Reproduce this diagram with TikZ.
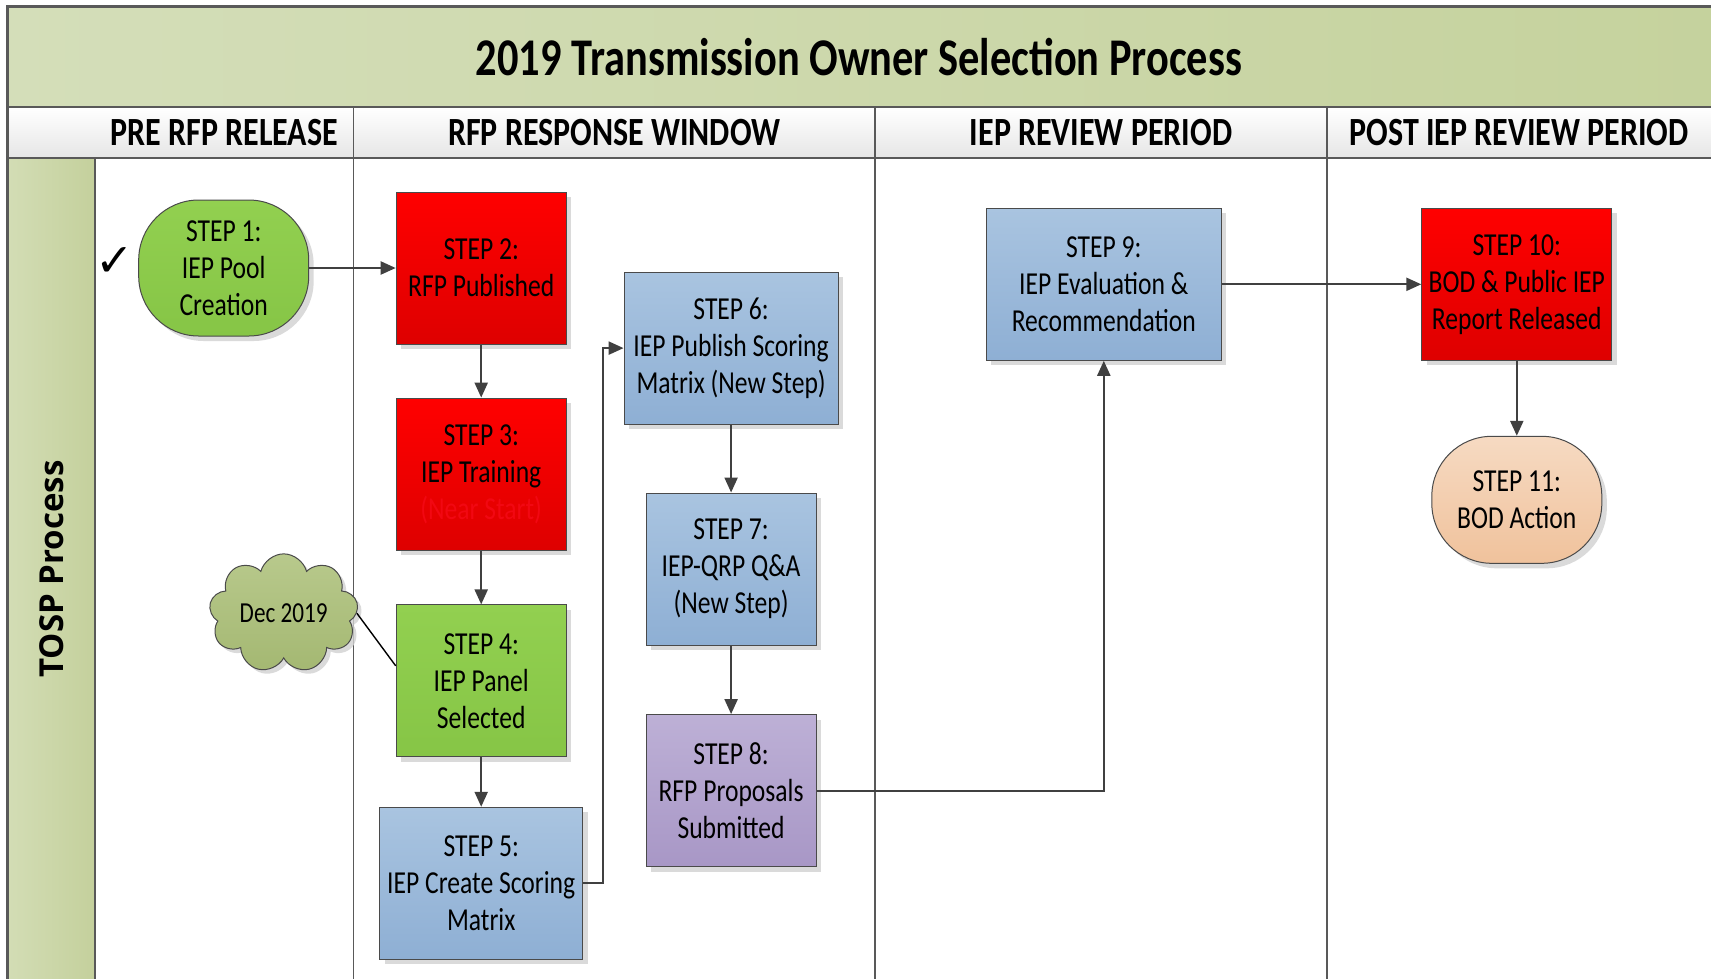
\documentclass[tikz,border=0pt]{standalone}
\usepackage{fontspec}
\setmainfont{Carlito}
\newfontfamily\narrowfont[FakeStretch=0.8]{Carlito}
\newfontfamily\lanefont{Open Sans}
\newfontfamily\tickfont{DejaVu Sans}
\usetikzlibrary{arrows.meta,shapes.symbols,shadows}
\definecolor{framegray}{HTML}{595959}
\definecolor{edgegray}{HTML}{4A4A4A}
\definecolor{arrowgray}{HTML}{404040}
\definecolor{bandleft}{HTML}{D4DEB9}
\definecolor{bandright}{HTML}{C5D29D}
\definecolor{headgray}{HTML}{E6E6E6}
\definecolor{laneleft}{HTML}{D3DDB5}
\definecolor{laneright}{HTML}{C4D09C}
\definecolor{redtop}{HTML}{FF0000}
\definecolor{redbot}{HTML}{DE0000}
\definecolor{nearred}{HTML}{F20812}
\definecolor{greentop}{HTML}{92D050}
\definecolor{greenbot}{HTML}{86C546}
\definecolor{bluetop}{HTML}{A9C4E0}
\definecolor{bluebot}{HTML}{8EAFD4}
\definecolor{purpletop}{HTML}{BDB0D6}
\definecolor{purplebot}{HTML}{A897C6}
\definecolor{peachtop}{HTML}{F6DAC2}
\definecolor{peachbot}{HTML}{F0C29C}
\definecolor{cloudtop}{HTML}{B8C98C}
\definecolor{cloudbot}{HTML}{A4B872}
\tikzset{
  frame/.style={draw=framegray,line width=2.4pt},
  divider/.style={draw=framegray,line width=1.6pt},
  phase/.style={font=\narrowfont\bfseries\fontsize{40}{46}\selectfont},
  stepbox/.style={draw=edgegray,line width=1pt,align=center,inner sep=2pt,
    minimum width=170pt,minimum height=152pt,
    font=\narrowfont\fontsize{32}{37}\selectfont,
    drop shadow={shadow xshift=5pt,shadow yshift=-5pt,fill=black!18,opacity=.8}},
  redstep/.style={stepbox,top color=redtop,bottom color=redbot},
  greenstep/.style={stepbox,top color=greentop,bottom color=greenbot},
  bluestep/.style={stepbox,top color=bluetop,bottom color=bluebot},
  purplestep/.style={stepbox,top color=purpletop,bottom color=purplebot},
  roundstep/.style={stepbox,rounded corners=60pt,minimum height=136pt},
  flow/.style={draw=arrowgray,line width=2.2pt,-{Triangle[length=15pt,width=13pt]}},
}
\begin{document}
\begin{tikzpicture}[x=1pt,y=-1pt]
  \useasboundingbox (0,0) rectangle (1711,978);
  \clip (0,0) rectangle (1711,978);
  \fill[white] (0,0) rectangle (1711,978);
  \path[left color=bandleft,right color=bandright] (7.6,6.5) rectangle (1730,107);
  \path[top color=white,bottom color=headgray] (7.6,107) rectangle (1730,158);
  \path[left color=laneleft,right color=laneright] (7.6,158) rectangle (95,990);
  \draw[frame] (1730,6.5) -- (7.6,6.5) -- (7.6,990);
  \draw[frame] (7.6,107) -- (1730,107);
  \draw[frame] (7.6,158) -- (1730,158);
  \foreach \x in {353.5,875,1327}
    \draw[divider] (\x,107) -- (\x,990);
  \draw[divider] (95,158) -- (95,990);

  \node[font=\narrowfont\bfseries\fontsize{53}{60}\selectfont] (title) at (859,57)
    {2019 Transmission Owner Selection Process};
  \foreach \x/\t [count=\i] in {224.3/PRE RFP RELEASE, 614.3/RFP RESPONSE WINDOW,
      1101/IEP REVIEW PERIOD, 1519/POST IEP REVIEW PERIOD}
    \node[phase] (phase\i) at (\x,132.5) {\t};
  \node[rotate=90,font=\lanefont\bfseries\fontsize{33}{40}\selectfont] (lane) at (51.3,569) {TOSP Process};

  \node[roundstep,top color=greentop,bottom color=greenbot] (s1) at (223.7,268) {STEP 1:\\IEP Pool\\Creation};
  \node[font=\tickfont\fontsize{46}{50}\selectfont] (tick) at (114.6,262) {✓};
  \node[redstep] (s2) at (481.2,268) {STEP 2:\\RFP Published};
  \node[redstep] (s3) at (481.2,474.1) {STEP 3:\\IEP Training\\\textcolor{nearred}{(Near Start)}};
  \node[greenstep] (s4) at (481.2,680.9) {STEP 4:\\IEP Panel\\Selected};
  \node[bluestep,minimum width=203pt] (s5) at (481.2,883.3) {STEP 5:\\IEP Create Scoring\\Matrix};
  \node[bluestep,minimum width=214pt] (s6) at (731.1,348.1) {STEP 6:\\IEP Publish Scoring\\Matrix (New Step)};
  \node[bluestep] (s7) at (731.1,569) {STEP 7:\\IEP-QRP Q\&A\\(New Step)};
  \node[purplestep] (s8) at (731.1,790.6) {STEP 8:\\RFP Proposals\\Submitted};
  \node[bluestep,minimum width=235pt] (s9) at (1103.8,284.3) {STEP 9:\\IEP Evaluation \&\\Recommendation};
  \node[redstep,minimum width=190pt] (s10) at (1516.8,284.3) {STEP 10:\\BOD \& Public IEP\\Report Released};
  \node[roundstep,minimum height=127pt,top color=peachtop,bottom color=peachbot] (s11) at (1516.8,499.8) {STEP 11:\\BOD Action};
  \node[cloud,cloud puffs=9,aspect=1.5,draw=edgegray,line width=1pt,
    top color=cloudtop,bottom color=cloudbot,minimum width=148pt,minimum height=100pt,
    font=\narrowfont\fontsize{29}{34}\selectfont,
    drop shadow={shadow xshift=4pt,shadow yshift=-4pt,fill=black!18,opacity=.8}] (dec) at (283.7,613.3) {Dec 2019};

  \draw[flow] (s1.east) -- (s2.west);
  \draw[flow] (s2.south) -- (s3.north);
  \draw[flow] (s3.south) -- (s4.north);
  \draw[flow] (s4.south) -- (s5.north);
  \draw[flow] (s5.east) -- ++(20,0) |- (s6.west);
  \draw[flow] (s6.south) -- (s7.north);
  \draw[flow] (s7.south) -- (s8.north);
  \draw[flow] (s8.east) -| (s9.south);
  \draw[flow] (s9.east) -- (s10.west);
  \draw[flow] (s10.south) -- (s11.north);
  \draw[line width=1.4pt] (dec.east) -- (s4.170);
\end{tikzpicture}
\end{document}
